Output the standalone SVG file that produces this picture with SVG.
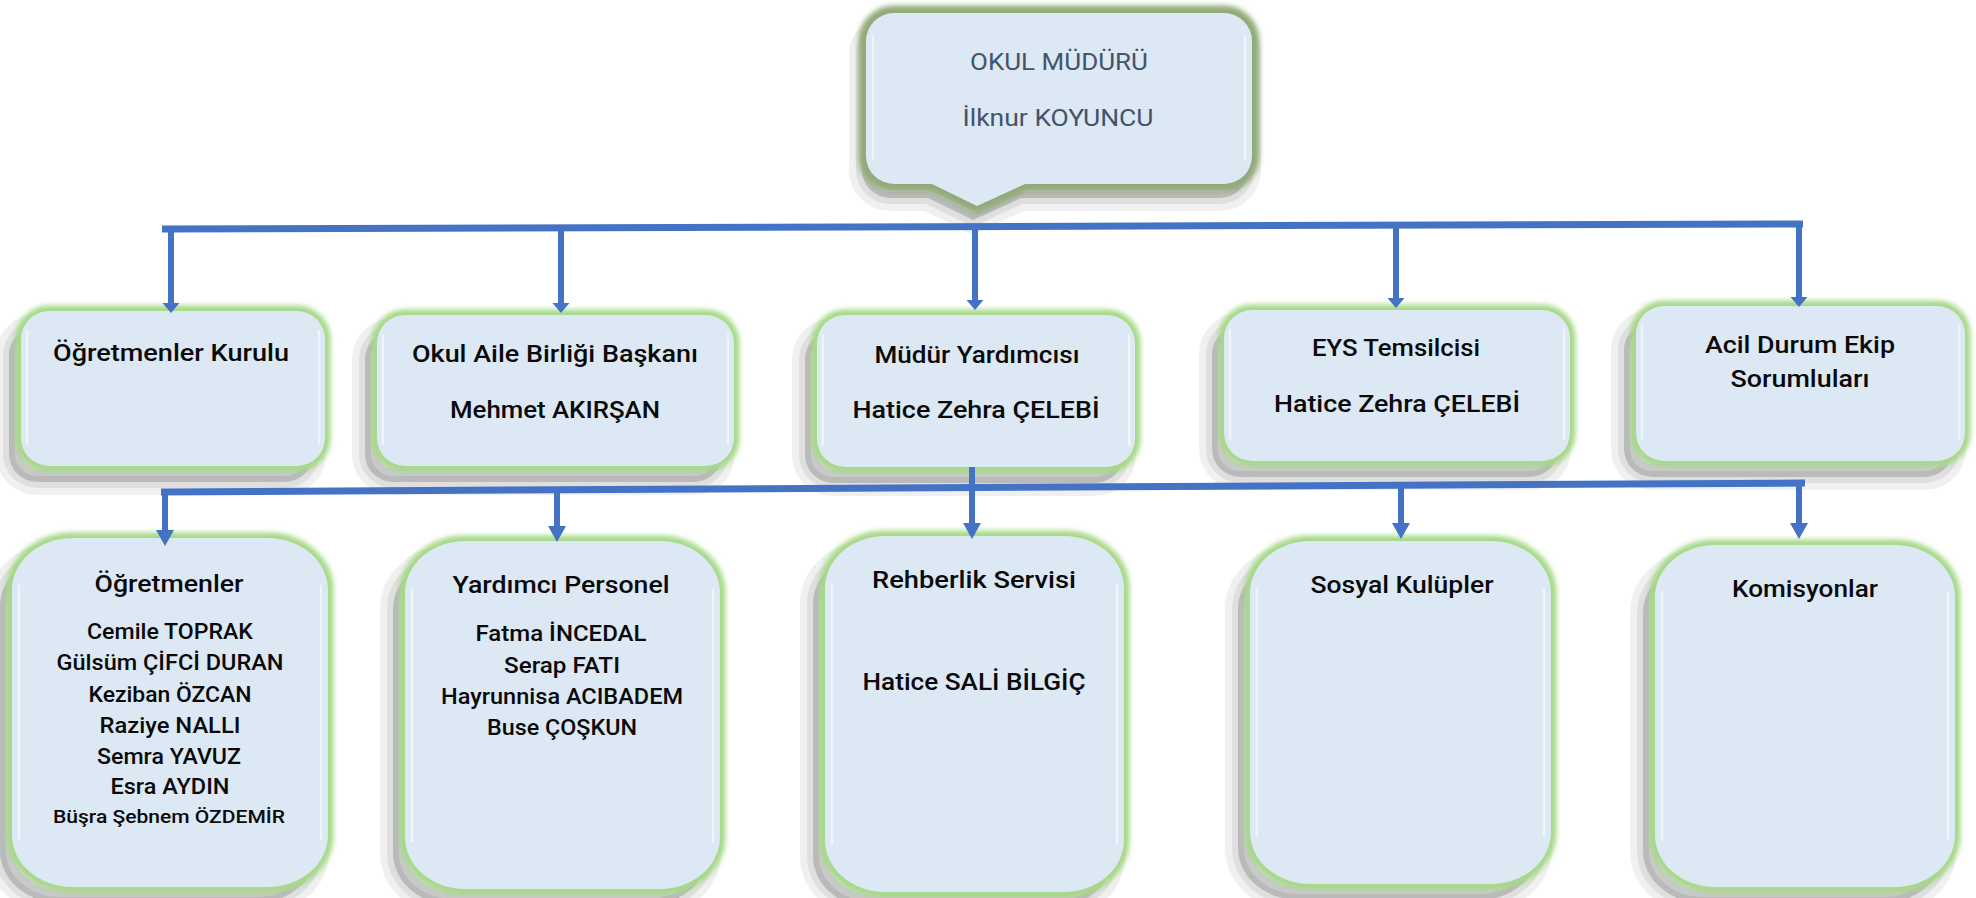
<svg xmlns="http://www.w3.org/2000/svg" width="1976" height="898" viewBox="0 0 1976 898">
<defs>
<filter id="soft" x="-10%" y="-10%" width="120%" height="120%">
<feGaussianBlur in="SourceGraphic" stdDeviation="2.5"/>
</filter>
<marker id="arrS" viewBox="0 -9 10 18" refX="0" refY="0" markerWidth="10" markerHeight="18" markerUnits="userSpaceOnUse" orient="auto">
<path d="M0,-8.5 L10,0 L0,8.5 Z" fill="#4472c4"/>
</marker>
<marker id="arrL" viewBox="0 -9 16 18" refX="0" refY="0" markerWidth="16" markerHeight="18" markerUnits="userSpaceOnUse" orient="auto">
<path d="M0,-9 L16,0 L0,9 Z" fill="#4472c4"/>
</marker>
</defs>
<style>
.sh{fill:#000;fill-opacity:0.16;stroke:#000;stroke-opacity:0.06;stroke-width:26}
.sh2{fill:none;stroke:#000;stroke-opacity:0.07;stroke-width:12}
.glow{fill:none;stroke:#a6d987;stroke-width:11}
.glowTop{fill:none;stroke:#91ab78;stroke-width:15}
.box{fill:#dce8f4}
.hl{fill:none;stroke:#ffffff;stroke-width:2.5;stroke-opacity:0.55}
.t{font-family:Roboto,"Liberation Sans",sans-serif;font-weight:500;fill:#0a0a0a;text-anchor:middle}
.r1{font-size:24px}
.h2{font-size:24px}
.n2{font-size:22px}
.top{font-family:Roboto,"Liberation Sans",sans-serif;font-size:24px;fill:#44546a;text-anchor:middle}
.ln{stroke:#4472c4;stroke-width:7;fill:none}
.v{stroke:#4472c4;stroke-width:6;fill:none}
</style>
<rect width="1976" height="898" fill="#ffffff"/>

<g id="okul-muduru">
<g transform="translate(-4,14)">
<path class="sh" d="M894,13 H1224 A28,28 0 0 1 1252,41 V156 A28,28 0 0 1 1224,184 H1025 L977,206 L932,184 H894 A28,28 0 0 1 866,156 V41 A28,28 0 0 1 894,13 Z"/>
<path class="sh2" d="M894,13 H1224 A28,28 0 0 1 1252,41 V156 A28,28 0 0 1 1224,184 H1025 L977,206 L932,184 H894 A28,28 0 0 1 866,156 V41 A28,28 0 0 1 894,13 Z"/>
</g>
<path class="glowTop" filter="url(#soft)" d="M894,13 H1224 A28,28 0 0 1 1252,41 V156 A28,28 0 0 1 1224,184 H1025 L977,206 L932,184 H894 A28,28 0 0 1 866,156 V41 A28,28 0 0 1 894,13 Z"/>
<path class="box" d="M894,13 H1224 A28,28 0 0 1 1252,41 V156 A28,28 0 0 1 1224,184 H1025 L977,206 L932,184 H894 A28,28 0 0 1 866,156 V41 A28,28 0 0 1 894,13 Z"/>
<path class="hl" d="M873,35 V160 M1245,35 V160"/>
<text class="top" x="1059" y="70" textLength="178" lengthAdjust="spacingAndGlyphs">OKUL MÜDÜRÜ</text>
<text class="top" x="1058" y="126" textLength="191" lengthAdjust="spacingAndGlyphs">İlknur KOYUNCU</text>
</g>

<g id="ogretmenler-kurulu">
<rect class="sh" x="9" y="327" width="304" height="155" rx="28"/><rect class="sh2" x="9" y="327" width="304" height="155" rx="28"/>
<rect class="glow" filter="url(#soft)" x="21" y="311" width="304" height="155" rx="28"/><rect class="box" x="21" y="311" width="304" height="155" rx="28"/>
<path class="hl" d="M27,330 V445 M319,330 V445"/>
<text class="t r1" x="171" y="361" textLength="236" lengthAdjust="spacingAndGlyphs">Öğretmenler Kurulu</text>
</g>

<g id="okul-aile-birligi">
<rect class="sh" x="365" y="331" width="357" height="151" rx="28"/><rect class="sh2" x="365" y="331" width="357" height="151" rx="28"/>
<rect class="glow" filter="url(#soft)" x="377" y="315" width="357" height="151" rx="28"/><rect class="box" x="377" y="315" width="357" height="151" rx="28"/>
<path class="hl" d="M383,334 V445 M728,334 V445"/>
<text class="t r1" x="555" y="362" textLength="286" lengthAdjust="spacingAndGlyphs">Okul Aile Birliği Başkanı</text>
<text class="t r1" x="555" y="418" textLength="210" lengthAdjust="spacingAndGlyphs">Mehmet AKIRŞAN</text>
</g>

<g id="mudur-yardimcisi">
<rect class="sh" x="805" y="331" width="318" height="152" rx="28"/><rect class="sh2" x="805" y="331" width="318" height="152" rx="28"/>
<rect class="glow" filter="url(#soft)" x="817" y="315" width="318" height="152" rx="28"/><rect class="box" x="817" y="315" width="318" height="152" rx="28"/>
<path class="hl" d="M823,334 V446 M1129,334 V446"/>
<text class="t r1" x="977" y="363" textLength="205" lengthAdjust="spacingAndGlyphs">Müdür Yardımcısı</text>
<text class="t r1" x="976" y="418" textLength="247" lengthAdjust="spacingAndGlyphs">Hatice Zehra ÇELEBİ</text>
</g>

<g id="eys-temsilcisi">
<rect class="sh" x="1212" y="326" width="346" height="151" rx="28"/><rect class="sh2" x="1212" y="326" width="346" height="151" rx="28"/>
<rect class="glow" filter="url(#soft)" x="1224" y="310" width="346" height="151" rx="28"/><rect class="box" x="1224" y="310" width="346" height="151" rx="28"/>
<path class="hl" d="M1230,329 V440 M1564,329 V440"/>
<text class="t r1" x="1396" y="356" textLength="168" lengthAdjust="spacingAndGlyphs">EYS Temsilcisi</text>
<text class="t r1" x="1397" y="412" textLength="246" lengthAdjust="spacingAndGlyphs">Hatice Zehra ÇELEBİ</text>
</g>

<g id="acil-durum">
<rect class="sh" x="1624" y="322" width="329" height="155" rx="28"/><rect class="sh2" x="1624" y="322" width="329" height="155" rx="28"/>
<rect class="glow" filter="url(#soft)" x="1636" y="306" width="329" height="155" rx="28"/><rect class="box" x="1636" y="306" width="329" height="155" rx="28"/>
<path class="hl" d="M1642,325 V440 M1959,325 V440"/>
<text class="t r1" x="1800" y="353" textLength="190" lengthAdjust="spacingAndGlyphs">Acil Durum Ekip</text>
<text class="t r1" x="1800" y="387" textLength="139" lengthAdjust="spacingAndGlyphs">Sorumluları</text>
</g>

<g id="ogretmenler">
<rect class="sh" x="0" y="554" width="316" height="349" rx="60" ry="52"/><rect class="sh2" x="0" y="554" width="316" height="349" rx="60" ry="52"/>
<rect class="glow" filter="url(#soft)" x="12" y="538" width="316" height="349" rx="60" ry="52"/><rect class="box" x="12" y="538" width="316" height="349" rx="60" ry="52"/>
<path class="hl" d="M19,585 V840 M321,585 V840"/>
<text class="t h2" x="169" y="592" textLength="149" lengthAdjust="spacingAndGlyphs">Öğretmenler</text>
<text class="t n2" x="170" y="639" textLength="166" lengthAdjust="spacingAndGlyphs">Cemile TOPRAK</text>
<text class="t n2" x="170" y="670" textLength="227" lengthAdjust="spacingAndGlyphs">Gülsüm ÇİFCİ DURAN</text>
<text class="t n2" x="170" y="702" textLength="163" lengthAdjust="spacingAndGlyphs">Keziban ÖZCAN</text>
<text class="t n2" x="170" y="733" textLength="141" lengthAdjust="spacingAndGlyphs">Raziye NALLI</text>
<text class="t n2" x="169" y="764" textLength="144" lengthAdjust="spacingAndGlyphs">Semra YAVUZ</text>
<text class="t n2" x="170" y="794" textLength="119" lengthAdjust="spacingAndGlyphs">Esra AYDIN</text>
<text class="t" style="font-size:19px" x="169" y="823" textLength="232" lengthAdjust="spacingAndGlyphs">Büşra Şebnem ÖZDEMİR</text>
</g>

<g id="yardimci-personel">
<rect class="sh" x="393" y="557" width="315" height="348" rx="60" ry="52"/><rect class="sh2" x="393" y="557" width="315" height="348" rx="60" ry="52"/>
<rect class="glow" filter="url(#soft)" x="405" y="541" width="315" height="348" rx="60" ry="52"/><rect class="box" x="405" y="541" width="315" height="348" rx="60" ry="52"/>
<path class="hl" d="M412,588 V842 M713,588 V842"/>
<text class="t h2" x="561" y="593" textLength="217" lengthAdjust="spacingAndGlyphs">Yardımcı Personel</text>
<text class="t n2" x="561" y="641" textLength="171" lengthAdjust="spacingAndGlyphs">Fatma İNCEDAL</text>
<text class="t n2" x="562" y="673" textLength="116" lengthAdjust="spacingAndGlyphs">Serap FATI</text>
<text class="t n2" x="562" y="704" textLength="242" lengthAdjust="spacingAndGlyphs">Hayrunnisa ACIBADEM</text>
<text class="t n2" x="562" y="735" textLength="150" lengthAdjust="spacingAndGlyphs">Buse ÇOŞKUN</text>
</g>

<g id="rehberlik-servisi">
<rect class="sh" x="813" y="552" width="299" height="356" rx="60" ry="52"/><rect class="sh2" x="813" y="552" width="299" height="356" rx="60" ry="52"/>
<rect class="glow" filter="url(#soft)" x="825" y="536" width="299" height="356" rx="60" ry="52"/><rect class="box" x="825" y="536" width="299" height="356" rx="60" ry="52"/>
<path class="hl" d="M832,583 V845 M1117,583 V845"/>
<text class="t h2" x="974" y="588" textLength="204" lengthAdjust="spacingAndGlyphs">Rehberlik Servisi</text>
<text class="t h2" x="974" y="690" textLength="223" lengthAdjust="spacingAndGlyphs">Hatice SALİ BİLGİÇ</text>
</g>

<g id="sosyal-kulupler">
<rect class="sh" x="1238" y="557" width="301" height="343" rx="60" ry="52"/><rect class="sh2" x="1238" y="557" width="301" height="343" rx="60" ry="52"/>
<rect class="glow" filter="url(#soft)" x="1250" y="541" width="301" height="343" rx="60" ry="52"/><rect class="box" x="1250" y="541" width="301" height="343" rx="60" ry="52"/>
<path class="hl" d="M1257,588 V837 M1544,588 V837"/>
<text class="t h2" x="1402" y="593" textLength="183" lengthAdjust="spacingAndGlyphs">Sosyal Kulüpler</text>
</g>

<g id="komisyonlar">
<rect class="sh" x="1643" y="561" width="300" height="342" rx="60" ry="52"/><rect class="sh2" x="1643" y="561" width="300" height="342" rx="60" ry="52"/>
<rect class="glow" filter="url(#soft)" x="1655" y="545" width="300" height="342" rx="60" ry="52"/><rect class="box" x="1655" y="545" width="300" height="342" rx="60" ry="52"/>
<path class="hl" d="M1662,592 V840 M1948,592 V840"/>
<text class="t h2" x="1805" y="597" textLength="146" lengthAdjust="spacingAndGlyphs">Komisyonlar</text>
</g>

<g id="connectors">
<path class="ln" d="M162,229 L1803,224"/>
<path class="v" marker-end="url(#arrS)" d="M171,229 V303"/>
<path class="v" marker-end="url(#arrS)" d="M561,228 V303"/>
<path class="v" marker-end="url(#arrS)" d="M975,226 V300"/>
<path class="v" marker-end="url(#arrS)" d="M1396,225 V298"/>
<path class="v" marker-end="url(#arrS)" d="M1799,224 V297"/>
<path class="ln" d="M161,492 L1805,483"/>
<path class="v" marker-end="url(#arrL)" d="M165,492 V530"/>
<path class="v" marker-end="url(#arrL)" d="M557,490 V526"/>
<path class="v" marker-end="url(#arrL)" d="M972,467 V523"/>
<path class="v" marker-end="url(#arrL)" d="M1401,485 V523"/>
<path class="v" marker-end="url(#arrL)" d="M1799,483 V523"/>
</g>
</svg>
